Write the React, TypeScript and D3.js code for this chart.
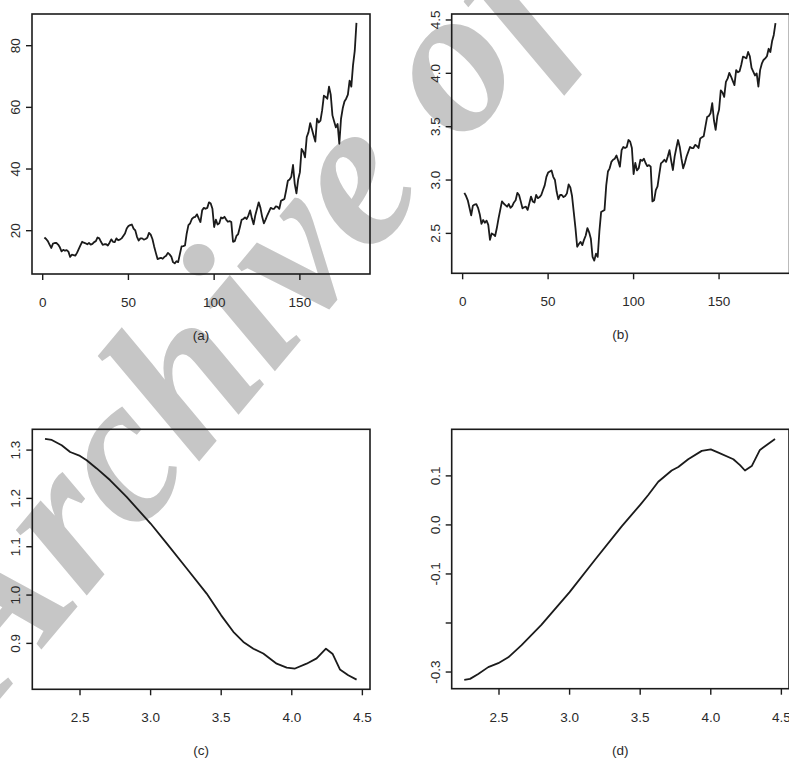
import React from "react";
import * as d3 from "d3";

// ---------- data ----------
const seriesIndex: number[] = d3.range(1, 184);

const priceValues: number[] = [
  17.8, 17.3, 16.6, 15.5, 14.4, 15.8, 16.0, 16.0, 15.5, 14.6,
  13.3, 13.8, 13.5, 13.7, 13.2, 11.5, 12.2, 12.1, 11.9, 12.8,
  14.0, 15.2, 16.4, 16.1, 15.9, 15.6, 16.0, 15.5, 15.7, 16.3,
  16.6, 17.8, 17.5, 16.4, 15.4, 15.6, 15.6, 15.2, 16.1, 17.2,
  16.4, 16.3, 17.5, 16.9, 17.1, 17.5, 18.3, 19.1, 20.7, 21.5,
  21.8, 22.0, 20.7, 20.1, 18.0, 16.8, 17.5, 17.5, 17.1, 17.3,
  17.7, 19.3, 18.7, 17.3, 14.9, 12.8, 10.8, 11.0, 11.2, 10.9,
  11.5, 11.9, 12.8, 12.3, 11.6, 9.8, 9.4, 10.1, 9.8, 12.4,
  14.9, 15.0, 15.2, 19.1, 21.8, 22.4, 23.8, 24.3, 24.5, 25.3,
  24.0, 22.8, 26.6, 27.4, 27.1, 27.4, 29.2, 28.8, 27.1, 21.2,
  23.6, 22.0, 22.4, 24.3, 24.0, 24.5, 23.6, 22.9, 23.1, 22.8,
  16.4, 16.6, 18.3, 18.9, 21.1, 23.5, 23.8, 24.3, 23.8, 25.0,
  26.6, 24.0, 22.1, 25.0, 27.1, 29.2, 27.4, 24.5, 22.4, 23.6,
  25.0, 26.2, 27.4, 27.1, 27.1, 27.9, 27.7, 27.1, 29.7, 30.0,
  30.3, 33.1, 36.2, 36.6, 37.5, 41.3, 35.2, 32.1, 36.6, 38.9,
  46.5, 45.6, 43.8, 50.4, 51.9, 54.9, 53.0, 50.9, 48.9, 56.3,
  55.1, 55.7, 59.1, 63.8, 63.4, 62.8, 66.7, 64.1, 57.4, 55.4,
  53.5, 54.6, 48.2, 56.3, 59.7, 61.9, 62.8, 64.1, 68.7, 66.7,
  73.7, 78.3, 87.4,
];

const logPriceValues: number[] = [
  2.88, 2.85, 2.81, 2.74, 2.67, 2.76, 2.77, 2.775, 2.74, 2.68,
  2.59, 2.625, 2.60, 2.62, 2.58, 2.44, 2.50, 2.49, 2.475, 2.55,
  2.64, 2.72, 2.80, 2.78, 2.765, 2.75, 2.775, 2.74, 2.755, 2.79,
  2.81, 2.88, 2.86, 2.80, 2.735, 2.745, 2.75, 2.72, 2.78, 2.845,
  2.80, 2.79, 2.86, 2.83, 2.84, 2.86, 2.906, 2.95, 3.03, 3.07,
  3.08, 3.09, 3.03, 3.0, 2.89, 2.82, 2.86, 2.86, 2.84, 2.85,
  2.875, 2.96, 2.93, 2.85, 2.70, 2.55, 2.375, 2.40, 2.42, 2.39,
  2.44, 2.48, 2.55, 2.51, 2.45, 2.28, 2.245, 2.31, 2.28, 2.52,
  2.70, 2.71, 2.72, 2.95, 3.08, 3.11, 3.17, 3.19, 3.20, 3.23,
  3.18, 3.125, 3.28, 3.31, 3.30, 3.31, 3.375, 3.36, 3.30, 3.056,
  3.16, 3.09, 3.11, 3.19, 3.18, 3.20, 3.16, 3.13, 3.14, 3.125,
  2.80, 2.81, 2.906, 2.94, 3.05, 3.156, 3.17, 3.19, 3.17, 3.22,
  3.28, 3.18, 3.094, 3.22, 3.30, 3.375, 3.31, 3.20, 3.11, 3.16,
  3.22, 3.265, 3.31, 3.30, 3.30, 3.33, 3.32, 3.30, 3.39, 3.40,
  3.41, 3.50, 3.59, 3.60, 3.625, 3.72, 3.56, 3.47, 3.60, 3.66,
  3.84, 3.82, 3.78, 3.92, 3.95, 4.005, 3.97, 3.93, 3.89, 4.03,
  4.01, 4.02, 4.08, 4.156, 4.15, 4.14, 4.20, 4.16, 4.05, 4.015,
  3.98, 4.00, 3.875, 4.03, 4.09, 4.125, 4.14, 4.16, 4.23, 4.20,
  4.30, 4.36, 4.47,
];

const curveCX: number[] = [
  2.252, 2.30, 2.37, 2.43, 2.50, 2.547, 2.618, 2.712, 2.83, 3.0,
  3.114, 3.256, 3.397, 3.5, 3.586, 3.657, 3.728, 3.798, 3.893, 3.964,
  4.023, 4.105, 4.176, 4.242, 4.29, 4.341, 4.40, 4.459,
];
const curveCY: number[] = [
  1.323, 1.321, 1.310, 1.296, 1.288, 1.279, 1.262, 1.238, 1.203, 1.148,
  1.107, 1.055, 1.003, 0.958, 0.924, 0.903, 0.889, 0.879, 0.858, 0.850,
  0.848, 0.858, 0.869, 0.889, 0.878, 0.846, 0.834, 0.825,
];

const curveDX: number[] = [
  2.254, 2.295, 2.353, 2.424, 2.495, 2.566, 2.66, 2.80, 3.0, 3.18,
  3.369, 3.5, 3.557, 3.628, 3.723, 3.77, 3.84, 3.936, 4.0, 4.05,
  4.16, 4.207, 4.242, 4.29, 4.348, 4.455,
];
const curveDY: number[] = [
  -0.316, -0.314, -0.304, -0.290, -0.282, -0.270, -0.245, -0.204, -0.137, -0.071,
  -0.003, 0.041, 0.061, 0.088, 0.111, 0.118, 0.134, 0.151, 0.154, 0.148,
  0.134, 0.122, 0.111, 0.120, 0.153, 0.175,
];

const timeTicks: number[] = [0, 50, 100, 150];
const timeTickLabels: string[] = ["0", "50", "100", "150"];
const priceTicks: number[] = [20, 40, 60, 80];
const priceTickLabels: string[] = ["20", "40", "60", "80"];
const logTicks: number[] = [2.5, 3.0, 3.5, 4.0, 4.5];
const logTickLabels: string[] = ["2.5", "3.0", "3.5", "4.0", "4.5"];
const cTicksY: number[] = [0.9, 1.0, 1.1, 1.2, 1.3];
const cTickLabelsY: string[] = ["0.9", "1.0", "1.1", "1.2", "1.3"];
const dTicksY: number[] = [-0.3, -0.2, -0.1, 0.0, 0.1];
const dTickLabelsY: string[] = ["-0.3", "", "-0.1", "0.0", "0.1"];
const captions: string[] = ["(a)", "(b)", "(c)", "(d)"];
const watermark = "Archive of SID";

// ---------- drawing ----------
const FONT = "'Liberation Sans', Arial, Helvetica, sans-serif";
const SERIF = "'Liberation Serif', 'Times New Roman', serif";
const INK = "#1b1b1b";
const LABEL = "#2a2a2a";

type PanelProps = {
  box: [number, number, number, number]; // x0, x1, y0, y1
  xDomain: [number, number];
  yDomain: [number, number];
  xs: number[];
  ys: number[];
  xTicks: number[];
  xLabels: string[];
  yTicks: number[];
  yLabels: string[];
  caption: string;
};

function Panel(p: PanelProps) {
  const [x0, x1, y0, y1] = p.box;
  const x = d3.scaleLinear().domain(p.xDomain).range([x0, x1]);
  const y = d3.scaleLinear().domain(p.yDomain).range([y1, y0]);
  const line = d3
    .line<number>()
    .x((_, i) => x(p.xs[i]))
    .y((v) => y(v));
  const tick = 6;
  const cx = (x0 + Math.min(x1, 789.5)) / 2;
  return (
    <g>
      <path d={line(p.ys) || ""} fill="none" stroke={INK} strokeWidth={1.8} strokeLinejoin="round" />
      <rect x={x0} y={y0} width={x1 - x0} height={y1 - y0} fill="none" stroke={INK} strokeWidth={1.6} />
      {p.xTicks.map((t, i) => (
        <g key={"x" + i}>
          <line x1={x(t)} x2={x(t)} y1={y1} y2={y1 + tick} stroke={INK} strokeWidth={1.4} />
          <text x={x(t)} y={y1 + 33} textAnchor="middle" fontFamily={FONT} fontSize={13.5} fill={LABEL}>
            {p.xLabels[i]}
          </text>
        </g>
      ))}
      {p.yTicks.map((t, i) => (
        <g key={"y" + i}>
          <line x1={x0 - tick} x2={x0} y1={y(t)} y2={y(t)} stroke={INK} strokeWidth={1.4} />
          {p.yLabels[i] !== "" && (
            <text
              transform={`translate(${x0 - 12},${y(t)}) rotate(-90)`}
              textAnchor="middle"
              fontFamily={FONT}
              fontSize={13.5}
              fill={LABEL}
            >
              {p.yLabels[i]}
            </text>
          )}
        </g>
      ))}
      <text x={cx} y={y1 + 66} textAnchor="middle" fontFamily={FONT} fontSize={13.5} fill={LABEL}>
        {p.caption}
      </text>
    </g>
  );
}

export default function App() {
  return (
    <svg
      width={789}
      height={761}
      viewBox="0 0 789 761"
      style={{ position: "absolute", left: 0, top: 0, background: "#ffffff" }}
    >
      <rect x={0} y={0} width={789} height={761} fill="#ffffff" />
      <text
        transform="translate(-6,706) rotate(-50)"
        fontFamily={SERIF}
        fontWeight="bold"
        fontStyle="italic"
        fontSize={210}
        fill="#c6c6c6"
      >
        {watermark}
      </text>
      <Panel
        box={[32, 370, 14, 274]}
        xDomain={[-6.24, 190.9]}
        yDomain={[5.95, 90.28]}
        xs={seriesIndex}
        ys={priceValues}
        xTicks={timeTicks}
        xLabels={timeTickLabels}
        yTicks={priceTicks}
        yLabels={priceTickLabels}
        caption={captions[0]}
      />
      <Panel
        box={[451.7, 789.5, 14, 273.3]}
        xDomain={[-6.4, 191.2]}
        yDomain={[2.126, 4.556]}
        xs={seriesIndex}
        ys={logPriceValues}
        xTicks={timeTicks}
        xLabels={timeTickLabels}
        yTicks={logTicks}
        yLabels={logTickLabels}
        caption={captions[1]}
      />
      <Panel
        box={[32.3, 370, 429.3, 689.3]}
        xDomain={[2.162, 4.554]}
        yDomain={[0.805, 1.343]}
        xs={curveCX}
        ys={curveCY}
        xTicks={logTicks}
        xLabels={logTickLabels}
        yTicks={cTicksY}
        yLabels={cTickLabelsY}
        caption={captions[2]}
      />
      <Panel
        box={[451.7, 789, 429.3, 688.7]}
        xDomain={[2.165, 4.554]}
        yDomain={[-0.334, 0.195]}
        xs={curveDX}
        ys={curveDY}
        xTicks={logTicks}
        xLabels={logTickLabels}
        yTicks={dTicksY}
        yLabels={dTickLabelsY}
        caption={captions[3]}
      />
    </svg>
  );
}
